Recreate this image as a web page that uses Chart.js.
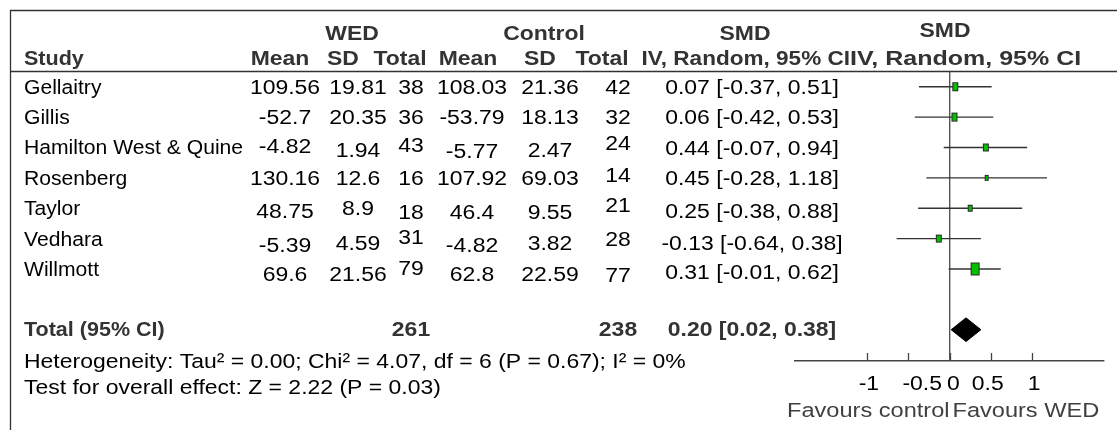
<!DOCTYPE html>
<html>
<head>
<meta charset="utf-8">
<script src="https://cdn.jsdelivr.net/npm/chart.js@4.4.1/dist/chart.umd.min.js"></script>
<style>
  html, body { margin: 0; padding: 0; background: #ffffff; }
  #wrap { position: relative; width: 1117px; height: 430px; }
</style>
</head>
<body>
<div id="wrap"><canvas id="forest" width="1117" height="430"></canvas></div>
<script>
// Study-level data (standardised mean difference, inverse variance, random effects)
const studies   = ['Gellaitry', 'Gillis', 'Hamilton West & Quine', 'Rosenberg', 'Taylor', 'Vedhara', 'Willmott'];
const wedMean   = [109.56, -52.7, -4.82, 130.16, 48.75, -5.39, 69.6];
const wedSD     = [19.81, 20.35, 1.94, 12.6, 8.9, 4.59, 21.56];
const wedTotal  = [38, 36, 43, 16, 18, 31, 79];
const ctlMean   = [108.03, -53.79, -5.77, 107.92, 46.4, -4.82, 62.8];
const ctlSD     = [21.36, 18.13, 2.47, 69.03, 9.55, 3.82, 22.59];
const ctlTotal  = [42, 32, 24, 14, 21, 28, 77];
const smd       = [0.07, 0.06, 0.44, 0.45, 0.25, -0.13, 0.31];
const ciLow     = [-0.37, -0.42, -0.07, -0.28, -0.38, -0.64, -0.01];
const ciHigh    = [0.51, 0.53, 0.94, 1.18, 0.88, 0.38, 0.62];

// Pooled result
const pooledWedTotal = 261;
const pooledCtlTotal = 238;
const pooledSmd  = 0.20;
const pooledLow  = 0.02;
const pooledHigh = 0.38;
const heterogeneityText = 'Heterogeneity: Tau² = 0.00; Chi² = 4.07, df = 6 (P = 0.67); I² = 0%';
const overallText       = 'Test for overall effect: Z = 2.22 (P = 0.03)';

// Axis
const xTicks      = [-1, -0.5, 0, 0.5, 1];
const xTickLabels = ['-1', '-0.5', '0', '0.5', '1'];
const favoursLeft  = 'Favours control';
const favoursRight = 'Favours WED';

// ---- layout ----
const W = 1117, H = 430;
const FONT = '"Liberation Sans", Arial, Helvetica, sans-serif';
const FS = 20.5;        // font size
const SX = 1.12;        // horizontal text stretch
const SX_NAME = 1.03;   // study names are set a little narrower
const ROW_TOTAL = 9;    // row index of the pooled line (studies are 1..7)
const Y_MIN = 0.516, Y_MAX = 10.03;
const DIAMOND_HALF = 0.39;
const COL = { mean: 285, sd: 358, total: 411, cMean: 472, cSD: 550, cTotal: 618, smd: 752 };
// per-cell baseline nudges (px) for the numeric columns, row by row
const CELL_DY = [
  [0, 0, 0, 0, 0, 0, 0],
  [0, 0, 0, 0, 0, 0, 0],
  [-1, 3, -2, 4, 3, -4, 1],
  [0, 0, 0, 0, 0, -3, 0],
  [3, 0, 4, 4, 4, -3, 3],
  [6, 4, -2, 6, 4, 0, 4],
  [5, 5, -1, 5, 5, 6, 3]
];
// horizontal nudges (px) of the axis tick labels
const TICK_LABEL_DX = [2, 14, 4, -3, 2];

// box size from inverse-variance weight
function markerCanvas(lo, hi) {
  const se = (hi - lo) / 3.92;
  const wt = 1 / (se * se);
  const h = Math.max(5, Math.round(2.1 * Math.sqrt(wt)));
  const w = Math.max(4, Math.round(0.72 * h));
  const c = document.createElement('canvas');
  c.width = w + 2; c.height = h + 2;
  const g = c.getContext('2d');
  g.fillStyle = '#00c000';
  g.fillRect(1, 1, w, h);
  g.strokeStyle = '#2a2a2a';
  g.lineWidth = 1;
  g.strokeRect(1.5, 1.5, w - 1, h - 1);
  return c;
}

function fmtCI(e, lo, hi) {
  return e.toFixed(2) + ' [' + lo.toFixed(2) + ', ' + hi.toFixed(2) + ']';
}

function text(ctx, str, x, y, align, bold, color, sx) {
  ctx.save();
  ctx.translate(x, y);
  ctx.scale(sx || SX, 1);
  ctx.font = (bold ? 'bold ' : '') + FS + 'px ' + FONT;
  ctx.fillStyle = color || '#000';
  ctx.textAlign = align;
  ctx.textBaseline = 'alphabetic';
  ctx.fillText(str, 0, 0);
  ctx.restore();
}

const tablePlugin = {
  id: 'forestTable',
  afterDraw(chart) {
    const ctx = chart.ctx;
    const xs = chart.scales.x, ys = chart.scales.y;
    const area = chart.chartArea;

    // frame lines
    ctx.save();
    ctx.strokeStyle = '#333';
    ctx.lineWidth = 1.3;
    ctx.beginPath();
    ctx.moveTo(10.5, H); ctx.lineTo(10.5, 10.5); ctx.lineTo(W, 10.5);
    ctx.moveTo(10.5, 71.5); ctx.lineTo(W, 71.5);
    ctx.stroke();

    // tick marks above the axis line
    ctx.strokeStyle = '#444';
    ctx.lineWidth = 1.3;
    ctx.beginPath();
    xTicks.forEach(v => {
      const px = Math.round(xs.getPixelForValue(v)) + 0.5;
      ctx.moveTo(px, area.bottom - 8); ctx.lineTo(px, area.bottom);
    });
    ctx.stroke();
    ctx.restore();

    // headers
    const hc = '#333';
    text(ctx, 'WED', 352, 40, 'center', true, hc);
    text(ctx, 'Control', 544, 40, 'center', true, hc);
    text(ctx, 'SMD', 745, 40, 'center', true, hc);
    text(ctx, 'SMD', 945, 37, 'center', true, hc);
    text(ctx, 'Study', 24, 65, 'left', true, hc, 1.05);
    text(ctx, 'Mean', 280, 65, 'center', true, hc);
    text(ctx, 'SD', 343, 65, 'center', true, hc);
    text(ctx, 'Total', 400, 65, 'center', true, hc);
    text(ctx, 'Mean', 468, 65, 'center', true, hc);
    text(ctx, 'SD', 540, 65, 'center', true, hc);
    text(ctx, 'Total', 602, 65, 'center', true, hc);
    text(ctx, 'IV, Random, 95% CI', 850, 65, 'right', true, hc, 1.1);
    text(ctx, 'IV, Random, 95% CI', 850, 65, 'left', true, hc, 1.22);

    // study rows
    const cols = [COL.mean, COL.sd, COL.total, COL.cMean, COL.cSD, COL.cTotal, COL.smd];
    studies.forEach((s, i) => {
      const y = ys.getPixelForValue(i + 1) + 7;
      const cells = [
        String(wedMean[i]), String(wedSD[i]), String(wedTotal[i]),
        String(ctlMean[i]), String(ctlSD[i]), String(ctlTotal[i]),
        fmtCI(smd[i], ciLow[i], ciHigh[i])
      ];
      text(ctx, s, 24, y, 'left', false, '#000', SX_NAME);
      cells.forEach((c, j) => text(ctx, c, cols[j], y + CELL_DY[i][j], 'center'));
    });

    // pooled row
    const yt = ys.getPixelForValue(ROW_TOTAL) + 6;
    text(ctx, 'Total (95% CI)', 24, yt, 'left', true, hc, 1.05);
    text(ctx, String(pooledWedTotal), COL.total, yt, 'center', true, hc);
    text(ctx, String(pooledCtlTotal), COL.cTotal, yt, 'center', true, hc);
    text(ctx, fmtCI(pooledSmd, pooledLow, pooledHigh), COL.smd, yt, 'center', true, hc);

    text(ctx, heterogeneityText, 24, 368, 'left');
    text(ctx, overallText, 24, 394, 'left');

    // axis labels
    xTicks.forEach((v, i) => {
      text(ctx, xTickLabels[i], xs.getPixelForValue(v) + TICK_LABEL_DX[i], 390, 'center', false, '#000');
    });
    const zx = xs.getPixelForValue(0);
    text(ctx, favoursLeft, zx, 417, 'right', false, '#404040', 1.15);
    text(ctx, favoursRight, zx + 3, 417, 'left', false, '#404040', 1.15);
  }
};

const ciDatasets = studies.map((s, i) => ({
  type: 'line',
  label: s,
  data: [{ x: ciLow[i], y: i + 1 }, { x: ciHigh[i], y: i + 1 }],
  borderColor: '#333',
  borderWidth: 1.4,
  pointRadius: 0,
  fill: false,
  order: 3
}));

const pointDataset = {
  type: 'scatter',
  label: 'SMD',
  data: studies.map((s, i) => ({ x: smd[i], y: i + 1 })),
  pointStyle: studies.map((s, i) => markerCanvas(ciLow[i], ciHigh[i])),
  pointRadius: 5,
  order: 1
};

const diamondDataset = {
  type: 'line',
  label: 'Total (95% CI)',
  data: [
    { x: pooledLow, y: ROW_TOTAL },
    { x: pooledSmd, y: ROW_TOTAL - DIAMOND_HALF },
    { x: pooledHigh, y: ROW_TOTAL },
    { x: pooledSmd, y: ROW_TOTAL + DIAMOND_HALF },
    { x: pooledLow, y: ROW_TOTAL }
  ],
  borderColor: '#000',
  backgroundColor: '#000',
  borderWidth: 1,
  pointRadius: 0,
  tension: 0,
  fill: 'shape',
  order: 2
};

new Chart(document.getElementById('forest'), {
  type: 'scatter',
  data: { datasets: [...ciDatasets, pointDataset, diamondDataset] },
  options: {
    responsive: false,
    animation: false,
    layout: { padding: { left: 795, right: 13, top: 72, bottom: 29 } },
    plugins: { legend: { display: false }, tooltip: { enabled: false } },
    scales: {
      x: {
        type: 'linear',
        min: -1.87, max: 1.87,
        afterBuildTicks: s => { s.ticks = xTicks.map(v => ({ value: v })); },
        afterFit: s => { s.height = 40; },
        grid: {
          drawTicks: false,
          lineWidth: 1.4,
          color: c => (c.tick && c.tick.value === 0) ? '#555' : 'rgba(0,0,0,0)'
        },
        border: { display: true, color: '#444', width: 1.4 },
        ticks: { display: false }
      },
      y: {
        type: 'linear',
        display: false,
        min: Y_MIN, max: Y_MAX,
        reverse: true
      }
    }
  },
  plugins: [tablePlugin]
});
</script>
</body>
</html>
